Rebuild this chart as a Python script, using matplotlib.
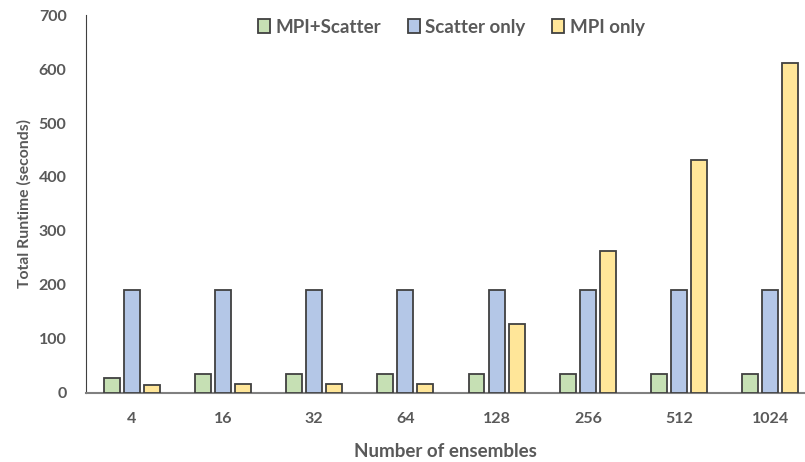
import numpy as np
import matplotlib.pyplot as plt

plt.rcParams['font.family'] = ['Lato', 'DejaVu Sans']

ensembles = ["4", "16", "32", "64", "128", "256", "512", "1024"]
mpi_scatter = [28, 35, 35, 35, 35, 35, 35, 35]
scatter_only = [190, 190, 190, 190, 190, 190, 190, 190]
mpi_only = [15, 17, 17, 17, 128, 263, 431, 611]

series = [
    ("MPI+Scatter", mpi_scatter, "#C6E0B4"),
    ("Scatter only", scatter_only, "#B4C7E7"),
    ("MPI only", mpi_only, "#FFE699"),
]

fig = plt.figure(figsize=(8.05, 4.62), dpi=100)
ax = fig.add_axes([0.1068, 0.1494, 0.8932, 0.8181])

x = np.arange(len(ensembles))
w = 0.175
step = 0.22
for i, (name, vals, col) in enumerate(series):
    ax.bar(x + (i - 1) * step, vals, width=w, color=col,
           edgecolor="#404040", linewidth=1.3, label=name, zorder=3)

txt = "#595959"
ax.set_xlim(-0.5, 7.38)
ax.set_ylim(0, 700)
ax.set_yticks(range(0, 701, 100))
ax.set_xticks(x)
ax.set_xticklabels(ensembles)
ax.tick_params(length=0, labelsize=11.5, colors=txt)
for lab in ax.get_xticklabels() + ax.get_yticklabels():
    lab.set_fontweight("bold")
ax.tick_params(axis="x", pad=14)
ax.tick_params(axis="y", pad=14)

for s in ["top", "right"]:
    ax.spines[s].set_visible(False)
ax.spines["left"].set_color("#404040")
ax.spines["bottom"].set_color("#808080")
ax.spines["bottom"].set_linewidth(1.5)

ax.set_xlabel("Number of ensembles", fontsize=13.5, fontweight="bold", color=txt, labelpad=12)
ax.set_ylabel("Total Runtime (seconds)", fontsize=11.3, fontweight="bold", color=txt, labelpad=5)

leg = ax.legend(loc="upper center", bbox_to_anchor=(0.508, 1.035), ncol=3, frameon=False,
                handlelength=0.65, handleheight=0.8, handletextpad=0.3, columnspacing=1.4,
                prop={"weight": "bold", "size": 13.5})
for t in leg.get_texts():
    t.set_color(txt)

fig.savefig("out.png", dpi=100)
